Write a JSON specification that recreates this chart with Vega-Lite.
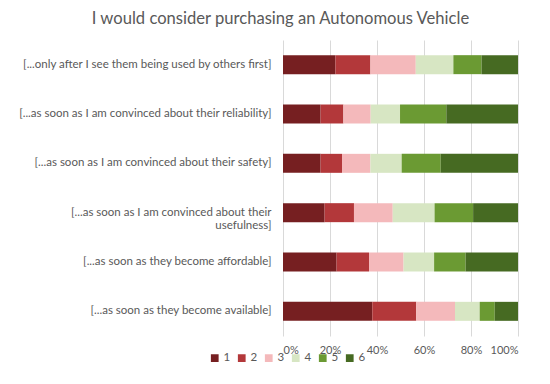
{
  "$schema": "https://vega.github.io/schema/vega-lite/v6.json",
  "width": 235,
  "height": 296,
  "autosize": "none",
  "padding": {"left": 283, "top": 40, "right": 32, "bottom": 48},
  "background": "white",
  "title": {
    "text": "I would consider purchasing an Autonomous Vehicle",
    "anchor": "middle",
    "frame": "group",
    "dx": -120,
    "offset": 12,
    "font": "Lato",
    "fontSize": 16.6,
    "fontWeight": "normal",
    "color": "#595959"
  },
  "data": {
    "values": [
      {"q": "[...only after I see them being used by others first]", "level": "1", "v": 22.3},
      {"q": "[...only after I see them being used by others first]", "level": "2", "v": 14.9},
      {"q": "[...only after I see them being used by others first]", "level": "3", "v": 19.3},
      {"q": "[...only after I see them being used by others first]", "level": "4", "v": 16.0},
      {"q": "[...only after I see them being used by others first]", "level": "5", "v": 12.0},
      {"q": "[...only after I see them being used by others first]", "level": "6", "v": 15.5},
      {"q": "[...as soon as I am convinced about their reliability]", "level": "1", "v": 16.0},
      {"q": "[...as soon as I am convinced about their reliability]", "level": "2", "v": 9.7},
      {"q": "[...as soon as I am convinced about their reliability]", "level": "3", "v": 11.6},
      {"q": "[...as soon as I am convinced about their reliability]", "level": "4", "v": 12.5},
      {"q": "[...as soon as I am convinced about their reliability]", "level": "5", "v": 19.7},
      {"q": "[...as soon as I am convinced about their reliability]", "level": "6", "v": 30.5},
      {"q": "[...as soon as I am convinced about their safety]", "level": "1", "v": 16.0},
      {"q": "[...as soon as I am convinced about their safety]", "level": "2", "v": 9.1},
      {"q": "[...as soon as I am convinced about their safety]", "level": "3", "v": 12.1},
      {"q": "[...as soon as I am convinced about their safety]", "level": "4", "v": 13.3},
      {"q": "[...as soon as I am convinced about their safety]", "level": "5", "v": 16.6},
      {"q": "[...as soon as I am convinced about their safety]", "level": "6", "v": 32.9},
      {"q": "[...as soon as I am convinced about their usefulness]", "level": "1", "v": 17.7},
      {"q": "[...as soon as I am convinced about their usefulness]", "level": "2", "v": 12.5},
      {"q": "[...as soon as I am convinced about their usefulness]", "level": "3", "v": 16.5},
      {"q": "[...as soon as I am convinced about their usefulness]", "level": "4", "v": 17.8},
      {"q": "[...as soon as I am convinced about their usefulness]", "level": "5", "v": 16.4},
      {"q": "[...as soon as I am convinced about their usefulness]", "level": "6", "v": 19.1},
      {"q": "[...as soon as they become affordable]", "level": "1", "v": 22.8},
      {"q": "[...as soon as they become affordable]", "level": "2", "v": 13.8},
      {"q": "[...as soon as they become affordable]", "level": "3", "v": 14.7},
      {"q": "[...as soon as they become affordable]", "level": "4", "v": 13.0},
      {"q": "[...as soon as they become affordable]", "level": "5", "v": 13.4},
      {"q": "[...as soon as they become affordable]", "level": "6", "v": 22.3},
      {"q": "[...as soon as they become available]", "level": "1", "v": 38.0},
      {"q": "[...as soon as they become available]", "level": "2", "v": 18.7},
      {"q": "[...as soon as they become available]", "level": "3", "v": 16.5},
      {"q": "[...as soon as they become available]", "level": "4", "v": 10.5},
      {"q": "[...as soon as they become available]", "level": "5", "v": 6.4},
      {"q": "[...as soon as they become available]", "level": "6", "v": 9.9}
    ]
  },
  "mark": {"type": "bar"},
  "encoding": {
    "y": {
      "field": "q",
      "type": "nominal",
      "sort": [
        "[...only after I see them being used by others first]",
        "[...as soon as I am convinced about their reliability]",
        "[...as soon as I am convinced about their safety]",
        "[...as soon as I am convinced about their usefulness]",
        "[...as soon as they become affordable]",
        "[...as soon as they become available]"
      ],
      "scale": {"paddingInner": 0.615, "paddingOuter": 0.3075},
      "axis": {
        "title": null,
        "ticks": false,
        "domain": false,
        "labelPadding": 12,
        "labelFont": "Lato",
        "labelFontSize": 11.5,
        "labelColor": "#595959",
        "labelLimit": 300,
        "labelExpr": "datum.value == '[...as soon as I am convinced about their usefulness]' ? ['[...as soon as I am convinced about their', 'usefulness]'] : datum.value"
      }
    },
    "x": {
      "field": "v",
      "type": "quantitative",
      "stack": "normalize",
      "scale": {"domain": [0, 1]},
      "axis": {
        "title": null,
        "format": ".0%",
        "values": [0, 0.2, 0.4, 0.6, 0.8, 1],
        "ticks": false,
        "domain": false,
        "grid": true,
        "gridColor": "#d9d9d9",
        "labelPadding": 8,
        "labelFont": "Lato",
        "labelFontSize": 11,
        "labelColor": "#595959"
      }
    },
    "color": {
      "field": "level",
      "type": "nominal",
      "scale": {
        "domain": ["1", "2", "3", "4", "5", "6"],
        "range": ["#761F21", "#B3383A", "#F4B9BB", "#D7E6C3", "#6B9A33", "#466A22"]
      },
      "legend": {
        "title": null,
        "orient": "none",
        "direction": "horizontal",
        "legendX": -74,
        "legendY": 312,
        "symbolType": "square",
        "symbolSize": 60,
        "symbolStrokeWidth": 0,
        "labelFont": "Lato",
        "labelFontSize": 11.5,
        "labelColor": "#595959",
        "labelOffset": 3,
        "columnPadding": 5
      }
    },
    "order": {"field": "level", "type": "ordinal", "sort": "ascending"}
  },
  "config": {"view": {"stroke": null}}
}
